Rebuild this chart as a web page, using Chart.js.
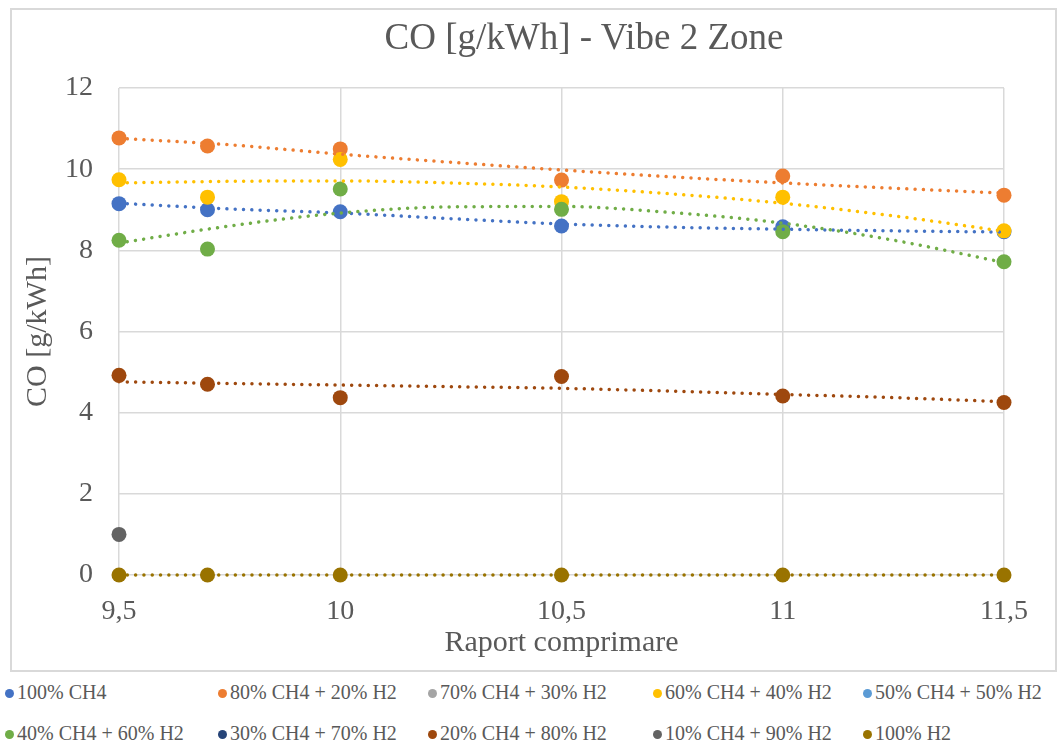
<!DOCTYPE html>
<html>
<head>
<meta charset="utf-8">
<script src="https://cdn.jsdelivr.net/npm/chart.js@4/dist/chart.umd.min.js"></script>
<style>
  body { margin: 0; background: #fff; }
  #wrap { position: relative; width: 1062px; height: 745px; font-family: "Liberation Serif", "Times New Roman", serif; }
  #box { position: absolute; left: 10px; top: 8px; width: 1043px; height: 660px; border: 2px solid #d9d9d9; }
  #grafico { position: absolute; left: 0; top: 0; }
  #titlu { position: absolute; left: 384px; width: 400px; top: 15px; text-align: center; color: #595959; font-size: 37px; line-height: 44px; white-space: nowrap; }
  .leg { position: absolute; color: #595959; font-size: 20px; white-space: nowrap; line-height: 24px; }
  .leg span { display: inline-block; width: 9px; height: 9px; border-radius: 50%; margin-right: 3px; vertical-align: 1px; }
</style>
</head>
<body>
<div id="wrap">
  <div id="box"></div>
  <canvas id="grafico" width="1062" height="670"></canvas>
  <div id="titlu">CO [g/kWh] - Vibe 2 Zone</div>
  <div id="leyenda"></div>
</div>
<script>
// raport de comprimare (axa X)
const rapoarte = [9.5, 9.7, 10, 10.5, 11, 11.5];

const serii = ['100% CH4', '80% CH4 + 20% H2', '70% CH4 + 30% H2', '60% CH4 + 40% H2', '50% CH4 + 50% H2',
  '40% CH4 + 60% H2', '30% CH4 + 70% H2', '20% CH4 + 80% H2', '10% CH4 + 90% H2', '100% H2'];
const culori = ['#4472C4', '#ED7D31', '#A5A5A5', '#FFC000', '#5B9BD5',
  '#70AD47', '#264478', '#9E480E', '#636363', '#997300'];

// valori CO [g/kWh]
const ch4_100 = [9.15, 9.0, 8.95, 8.6, 8.58, 8.46];
const ch4_80 = [10.77, 10.57, 10.5, 9.73, 9.83, 9.36];
const ch4_70 = [];
const ch4_60 = [9.74, 9.31, 10.24, 9.2, 9.31, 8.48];
const ch4_50 = [];
const ch4_40 = [8.25, 8.03, 9.51, 9.01, 8.46, 7.72];
const ch4_30 = [];
const ch4_20 = [4.92, 4.7, 4.37, 4.89, 4.41, 4.25];
const ch4_10 = [1.0];
const h2_100 = [0, 0, 0, 0, 0, 0];
const valori = [ch4_100, ch4_80, ch4_70, ch4_60, ch4_50, ch4_40, ch4_30, ch4_20, ch4_10, h2_100];

// linii de tendinta
const trendX = [9.5, 9.75, 10, 10.25, 10.5, 10.75, 11, 11.25, 11.5];
const trend_100 = [9.16, 9.02, 8.92, 8.78, 8.65, 8.57, 8.52, 8.48, 8.45];
const trend_80 = [10.76, 10.6, 10.37, 10.17, 9.98, 9.81, 9.66, 9.53, 9.41];
const trend_60 = [9.66, 9.7, 9.71, 9.66, 9.56, 9.39, 9.16, 8.85, 8.47];
const trend_40 = [8.18, 8.6, 8.92, 9.07, 9.08, 8.93, 8.67, 8.25, 7.7];
const trend_20 = [4.76, 4.72, 4.68, 4.64, 4.6, 4.53, 4.45, 4.37, 4.27];
const trend_h2 = [0, 0, 0, 0, 0, 0, 0, 0, 0];
const tendinte = [[0, trend_100], [1, trend_80], [3, trend_60], [5, trend_40], [7, trend_20], [9, trend_h2]];

const yTicks = [0, 2, 4, 6, 8, 10, 12];
const xTicks = [9.5, 10, 10.5, 11, 11.5];

const gri = '#595959';
const fontFam = '"Liberation Serif", "Times New Roman", serif';

let datasets = [];
serii.forEach((nume, i) => {
  datasets.push({
    label: nume,
    data: valori[i].map((v, k) => ({ x: rapoarte[k], y: v })),
    backgroundColor: culori[i],
    borderColor: culori[i],
    pointRadius: 7.5,
    pointBorderWidth: 0,
    showLine: false,
    clip: false,
    order: 100 - i
  });
});
tendinte.forEach(([i, vals]) => {
  datasets.push({
    label: 'trend ' + serii[i],
    data: vals.map((v, k) => ({ x: trendX[k], y: v })),
    borderColor: culori[i],
    borderWidth: 3.5,
    borderDash: [0.01, 8.3],
    borderCapStyle: 'round',
    pointRadius: 0,
    showLine: true,
    cubicInterpolationMode: 'monotone',
    clip: false,
    order: -10 - i
  });
});

new Chart(document.getElementById('grafico').getContext('2d'), {
  type: 'scatter',
  data: { datasets: datasets },
  options: {
    responsive: false,
    animation: false,
    layout: { padding: { left: 0, right: 58, top: 88, bottom: 0 } },
    plugins: {
      legend: { display: false },
      tooltip: { enabled: false },
      title: { display: false }
    },
    scales: {
      x: {
        type: 'linear',
        min: 9.5,
        max: 11.5,
        afterBuildTicks: s => { s.ticks = xTicks.map(v => ({ value: v })); },
        afterFit: s => { s.height = 95; },
        grid: { color: '#d9d9d9', lineWidth: 1.5, drawTicks: false },
        border: { display: false },
        ticks: {
          color: gri,
          padding: 20,
          font: { family: fontFam, size: 28 },
          callback: v => String(v).replace('.', ',')
        },
        title: {
          display: true,
          text: 'Raport comprimare',
          color: gri,
          font: { family: fontFam, size: 30 },
          padding: { top: 0, bottom: 9 }
        }
      },
      y: {
        min: 0,
        max: 12,
        afterBuildTicks: s => { s.ticks = yTicks.map(v => ({ value: v })); },
        afterFit: s => { s.width = 119; },
        grid: { color: '#d9d9d9', lineWidth: 1.5, drawTicks: false },
        border: { display: false },
        ticks: {
          color: gri,
          padding: 26,
          font: { family: fontFam, size: 28 }
        },
        title: {
          display: true,
          text: 'CO [g/kWh]',
          color: gri,
          font: { family: fontFam, size: 30 },
          padding: { top: 20, bottom: 0 }
        }
      }
    }
  }
});

// legenda
const colX = [5, 218, 428, 653, 863];
const rowY = [680, 721];
const leyenda = document.getElementById('leyenda');
serii.forEach((nume, i) => {
  const d = document.createElement('div');
  d.className = 'leg';
  d.style.left = colX[i % 5] + 'px';
  d.style.top = rowY[Math.floor(i / 5)] + 'px';
  d.innerHTML = '<span style="background:' + culori[i] + '"></span>' + nume;
  leyenda.appendChild(d);
});
</script>
</body>
</html>
